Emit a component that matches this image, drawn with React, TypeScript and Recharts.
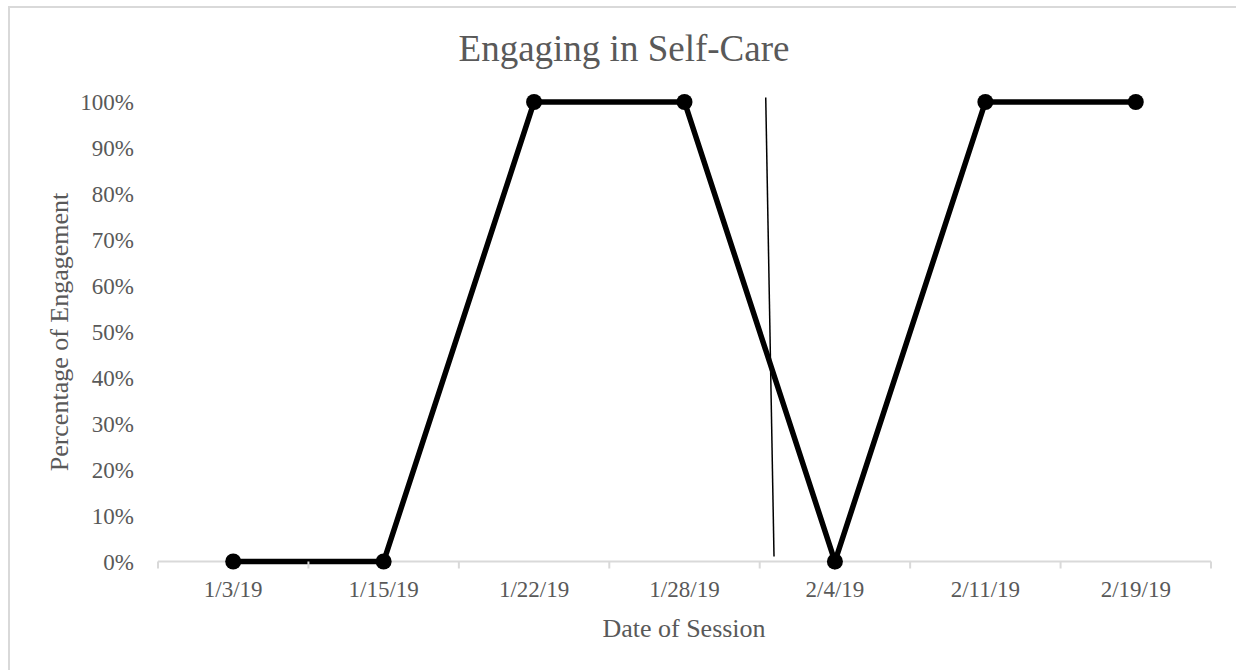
import { LineChart, Line, XAxis, YAxis, ReferenceLine, Customized } from "recharts";

const SESSIONS = ["1/3/19", "1/15/19", "1/22/19", "1/28/19", "2/4/19", "2/11/19", "2/19/19"];
const ENGAGEMENT = [0, 0, 1, 1, 0, 1, 1];
const Y_TICKS = [0, 0.1, 0.2, 0.3, 0.4, 0.5, 0.6, 0.7, 0.8, 0.9, 1];
// phase-change line, x in session units (0 = left edge of plot), y in fraction
const PHASE_LINE = [
  { x: 4.04, y: 1.01 },
  { x: 4.095, y: 0.011 },
];

const W = 1236;
const H = 670;
const MARGIN = { top: 102, right: 25, bottom: 0, left: 0 };
const Y_AXIS_W = 158;
const X_AXIS_H = 108.5;
const BAND = (W - MARGIN.right - Y_AXIS_W) / SESSIONS.length;

const FONT = "'Liberation Serif', 'Times New Roman', serif";
const TEXT = "#595959";
const AXIS = "#d9d9d9";

// pos = centre of each session's slot, used by the hidden numeric axis for the phase line
const data = SESSIONS.map((s, i) => ({ session: s, pos: i + 0.5, value: ENGAGEMENT[i] }));

function SessionTick(props: any) {
  const { x, y, payload, index } = props;
  const last = index === SESSIONS.length - 1;
  return (
    <g>
      <line x1={x - BAND / 2} x2={x - BAND / 2} y1={y} y2={y + 7} stroke={AXIS} strokeWidth={2} />
      {last && <line x1={x + BAND / 2} x2={x + BAND / 2} y1={y} y2={y + 7} stroke={AXIS} strokeWidth={2} />}
      <text x={x} y={y + 35.5} textAnchor="middle" fontFamily={FONT} fontSize={23} fill={TEXT}>
        {payload.value}
      </text>
    </g>
  );
}

function Titles() {
  return (
    <g fontFamily={FONT} fill={TEXT}>
      <text x={624} y={61} textAnchor="middle" fontSize={37}>
        Engaging in Self-Care
      </text>
      <text x={684} y={637} textAnchor="middle" fontSize={26}>
        Date of Session
      </text>
      <text x={68} y={332} textAnchor="middle" fontSize={26} transform="rotate(-90, 68, 332)">
        Percentage of Engagement
      </text>
    </g>
  );
}

export default function App() {
  return (
    <div style={{ position: "absolute", left: 0, top: 0, width: W, height: H, overflow: "hidden", background: "#fff" }}>
      <div
        style={{
          position: "absolute",
          left: 8,
          top: 6,
          width: W,
          height: H,
          borderLeft: `2px solid ${AXIS}`,
          borderTop: `2px solid ${AXIS}`,
        }}
      />
      <div style={{ position: "absolute", left: 0, top: 0 }}>
        <LineChart width={W} height={H} data={data} margin={MARGIN}>
          <XAxis
            dataKey="session"
            scale="band"
            height={X_AXIS_H}
            axisLine={{ stroke: AXIS, strokeWidth: 2 }}
            tickLine={false}
            tickSize={0}
            tickMargin={0}
            tick={<SessionTick />}
            interval={0}
          />
          <XAxis
            xAxisId="phase"
            dataKey="pos"
            type="number"
            scale="linear"
            domain={[0, SESSIONS.length]}
            allowDataOverflow
            hide
          />
          <YAxis
            width={Y_AXIS_W}
            domain={[0, 1]}
            ticks={Y_TICKS}
            interval={0}
            axisLine={false}
            tickLine={false}
            tickSize={0}
            tickMargin={24}
            tickFormatter={(v: number) => `${Math.round(v * 100)}%`}
            tick={{ fontFamily: FONT, fontSize: 23, fill: TEXT }}
          />
          <ReferenceLine xAxisId="phase" segment={PHASE_LINE} stroke="#000" strokeWidth={1.5} ifOverflow="visible" />
          <Line
            dataKey="value"
            stroke="#000"
            strokeWidth={5.5}
            dot={{ r: 8, fill: "#000", stroke: "#000", strokeWidth: 0 }}
            activeDot={false}
            isAnimationActive={false}
            zIndex={1000}
          />
          <Customized component={Titles} />
        </LineChart>
      </div>
    </div>
  );
}
